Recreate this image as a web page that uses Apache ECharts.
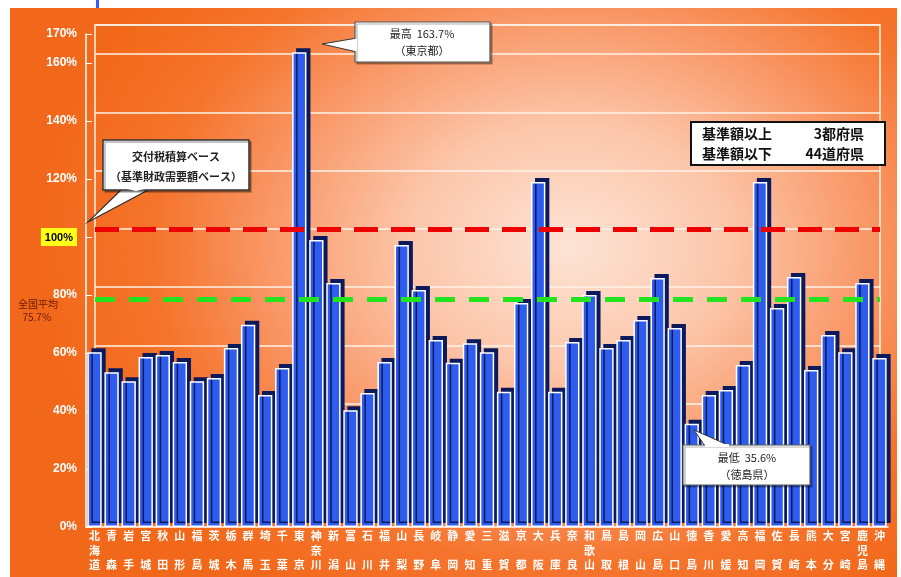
<!DOCTYPE html>
<html>
<head>
<meta charset="utf-8">
<script src="https://cdn.jsdelivr.net/npm/echarts@6/dist/echarts.min.js"></script>
<style>
  html, body { margin: 0; padding: 0; background: #fff; }
  #bg {
    position: absolute; left: 10px; top: 8px; width: 887px; height: 569px;
    background: radial-gradient(ellipse 60% 72% at 63% 42%, #fde4d6 0%, #fcc6aa 30%, #f99868 56%, #f5742c 78%, #f2681a 100%);
  }
  #main { position: absolute; left: 0; top: 0; width: 901px; height: 577px; }
</style>
</head>
<body>
<div id="bg"></div>
<div id="main"></div>
<script>
  /** 都道府県 */
  const prefNames = ['北海道', '青森', '岩手', '宮城', '秋田', '山形', '福島', '茨城', '栃木', '群馬',
    '埼玉', '千葉', '東京', '神奈川', '新潟', '富山', '石川', '福井', '山梨', '長野',
    '岐阜', '静岡', '愛知', '三重', '滋賀', '京都', '大阪', '兵庫', '奈良', '和歌山',
    '鳥取', '島根', '岡山', '広島', '山口', '徳島', '香川', '愛媛', '高知', '福岡',
    '佐賀', '長崎', '熊本', '大分', '宮崎', '鹿児島', '沖縄']

  /** 基準財政需要額に対する割合 (%) */
  const ratioValues = [60.3, 53.4, 50.3, 58.6, 59.3, 56.9, 50.3, 51.4, 61.7, 69.7,
    45.5, 54.8, 163.7, 99.0, 84.1, 40.3, 46.2, 56.9, 97.2, 81.7,
    64.5, 56.6, 63.4, 60.3, 46.6, 77.2, 119.0, 46.6, 63.8, 80.0,
    61.7, 64.5, 71.4, 85.9, 68.6, 35.6, 45.5, 47.2, 55.9, 119.0,
    75.5, 86.2, 54.1, 66.2, 60.3, 84.1, 58.3]

  /** 基準線 */
  const baseLine = 100
  const nationalAverage = 75.7

  /** 縦軸 */
  const yMin = 0
  const yMax = 170
  const yStep = 20

  const chart = echarts.init(document.getElementById('main'))
  const cjk = '"Noto Sans CJK JP", sans-serif'

  chart.setOption({
    backgroundColor: 'transparent',
    animation: false,
    grid: [
      // 奥の壁
      { left: 95, right: 21, top: 25, bottom: 57, show: true, borderColor: '#fff3e8', borderWidth: 1.5, backgroundColor: 'transparent' },
      // 手前 (棒グラフ)
      { left: 86, right: 13, top: 34, bottom: 50 }
    ],
    xAxis: [
      { gridIndex: 0, type: 'category', data: prefNames, show: false },
      {
        gridIndex: 1,
        type: 'category',
        data: prefNames,
        axisLine: { show: true, lineStyle: { color: '#ffffff', width: 1.5 } },
        axisTick: { show: false },
        axisLabel: {
          interval: 0,
          margin: 2,
          color: '#ffffff',
          fontWeight: 'bold',
          fontSize: 11,
          lineHeight: 14.5,
          fontFamily: cjk,
          formatter: name => name.length === 2 ? name[0] + '\n\n' + name[1] : name.split('').join('\n')
        }
      }
    ],
    yAxis: [
      {
        gridIndex: 0,
        type: 'value',
        min: yMin,
        max: yMax,
        interval: yStep,
        axisLabel: { show: false },
        axisTick: { show: false },
        axisLine: { show: false },
        splitLine: { show: true, lineStyle: { color: '#fff3e8', width: 1.5 } }
      },
      {
        gridIndex: 1,
        type: 'value',
        min: yMin,
        max: yMax,
        interval: yStep,
        axisLine: { show: true, lineStyle: { color: '#ffffff', width: 1.5 } },
        axisTick: { show: true, inside: true, length: 6, lineStyle: { color: '#ffffff' } },
        splitLine: { show: false },
        axisLabel: {
          margin: 9,
          color: '#ffffff',
          fontWeight: 'bold',
          fontSize: 12,
          fontFamily: 'Arial, "Liberation Sans", sans-serif',
          formatter: v => v === baseLine ? '{hl|' + v + '%}' : v + '%',
          rich: {
            hl: {
              backgroundColor: '#ffff1a',
              color: '#000000',
              fontWeight: 'bold',
              fontSize: 11,
              padding: [4, 4, 3, 4]
            }
          }
        }
      }
    ],
    series: [
      {
        name: '割合',
        type: 'bar',
        xAxisIndex: 1,
        yAxisIndex: 1,
        data: ratioValues,
        barWidth: '84%',
        z: 3,
        itemStyle: {
          color: '#2d5cef',
          borderColor: '#ffffff',
          borderWidth: 1.5,
          shadowColor: '#0b1a5c',
          shadowOffsetX: 4,
          shadowOffsetY: -4,
          shadowBlur: 0
        }
      },
      {
        name: '基準線',
        type: 'line',
        xAxisIndex: 0,
        yAxisIndex: 0,
        data: prefNames.map(() => null),
        showSymbol: false,
        z: 10,
        markLine: {
          silent: true,
          symbol: 'none',
          label: { show: false },
          data: [
            { yAxis: baseLine, lineStyle: { color: '#ee0000', width: 5, type: [24, 13] } },
            { yAxis: nationalAverage, lineStyle: { color: '#22e41e', width: 5, type: [20, 14] } }
          ]
        }
      }
    ],
    graphic: [
      { type: 'rect', left: 96, top: 0, shape: { width: 3, height: 8 }, style: { fill: '#3a5cff' } },
      // 全国平均
      {
        type: 'text', left: 18, top: 298, z: 100,
        style: { text: '全国平均\n  75.7%', fill: '#6a1a00', font: '10px ' + cjk, lineHeight: 13 }
      },
      // 交付税積算ベース
      {
        type: 'polygon', z: 99,
        shape: { points: [[122, 189], [88, 222], [150, 189]] },
        style: { fill: '#ffffff', stroke: '#333333', lineWidth: 1.2 }
      },
      {
        type: 'rect', z: 100,
        shape: { x: 103, y: 140, width: 146, height: 50 },
        style: { fill: '#ffffff', stroke: '#333333', lineWidth: 1.5, shadowColor: 'rgba(0,0,0,0.3)', shadowOffsetX: 2, shadowOffsetY: 2 }
      },
      { type: 'polygon', z: 101, shape: { points: [[123, 188], [149, 188], [136, 191]] }, style: { fill: '#ffffff' } },
      {
        type: 'text', z: 102, x: 176, y: 157,
        style: { text: '交付税積算ベース', fill: '#222', font: 'bold 11px ' + cjk, align: 'center', verticalAlign: 'middle' }
      },
      {
        type: 'text', z: 102, x: 176, y: 177,
        style: { text: '（基準財政需要額ベース）', fill: '#222', font: 'bold 11px ' + cjk, align: 'center', verticalAlign: 'middle' }
      },
      // 最高
      {
        type: 'polygon', z: 99,
        shape: { points: [[357, 38], [322, 44], [357, 52]] },
        style: { fill: '#ffffff', stroke: '#333333', lineWidth: 1 }
      },
      {
        type: 'rect', z: 100,
        shape: { x: 355, y: 22, width: 135, height: 40 },
        style: { fill: '#ffffff', stroke: '#555555', lineWidth: 1.2, shadowColor: 'rgba(0,0,0,0.3)', shadowOffsetX: 2, shadowOffsetY: 2 }
      },
      { type: 'rect', z: 101, shape: { x: 354, y: 39, width: 3, height: 12 }, style: { fill: '#ffffff' } },
      {
        type: 'text', z: 102, x: 422, y: 34,
        style: { text: '最高  163.7%', fill: '#222', font: '11px ' + cjk, align: 'center', verticalAlign: 'middle' }
      },
      {
        type: 'text', z: 102, x: 422, y: 51,
        style: { text: '（東京都）', fill: '#222', font: '11px ' + cjk, align: 'center', verticalAlign: 'middle' }
      },
      // 基準額以上・以下
      {
        type: 'rect', z: 100,
        shape: { x: 691, y: 122, width: 194, height: 43 },
        style: { fill: '#ffffff', stroke: '#111111', lineWidth: 2 }
      },
      {
        type: 'text', z: 102, x: 702, y: 134,
        style: { text: '基準額以上', fill: '#111', font: 'bold 14px ' + cjk, verticalAlign: 'middle' }
      },
      {
        type: 'text', z: 102, x: 864, y: 134,
        style: { text: '3都府県', fill: '#111', font: 'bold 14px ' + cjk, align: 'right', verticalAlign: 'middle' }
      },
      {
        type: 'text', z: 102, x: 702, y: 154,
        style: { text: '基準額以下', fill: '#111', font: 'bold 14px ' + cjk, verticalAlign: 'middle' }
      },
      {
        type: 'text', z: 102, x: 864, y: 154,
        style: { text: '44道府県', fill: '#111', font: 'bold 14px ' + cjk, align: 'right', verticalAlign: 'middle' }
      },
      // 最低
      {
        type: 'polygon', z: 99,
        shape: { points: [[705, 446], [694, 430], [730, 446]] },
        style: { fill: '#ffffff', stroke: '#333333', lineWidth: 1 }
      },
      {
        type: 'rect', z: 100,
        shape: { x: 683, y: 445, width: 127, height: 40 },
        style: { fill: '#ffffff', stroke: '#555555', lineWidth: 1.2, shadowColor: 'rgba(0,0,0,0.3)', shadowOffsetX: 2, shadowOffsetY: 2 }
      },
      { type: 'rect', z: 101, shape: { x: 705, y: 444, width: 24, height: 3 }, style: { fill: '#ffffff' } },
      {
        type: 'text', z: 102, x: 747, y: 458,
        style: { text: '最低  35.6%', fill: '#222', font: '11px ' + cjk, align: 'center', verticalAlign: 'middle' }
      },
      {
        type: 'text', z: 102, x: 747, y: 475,
        style: { text: '（徳島県）', fill: '#222', font: '11px ' + cjk, align: 'center', verticalAlign: 'middle' }
      }
    ]
  })
</script>
</body>
</html>
